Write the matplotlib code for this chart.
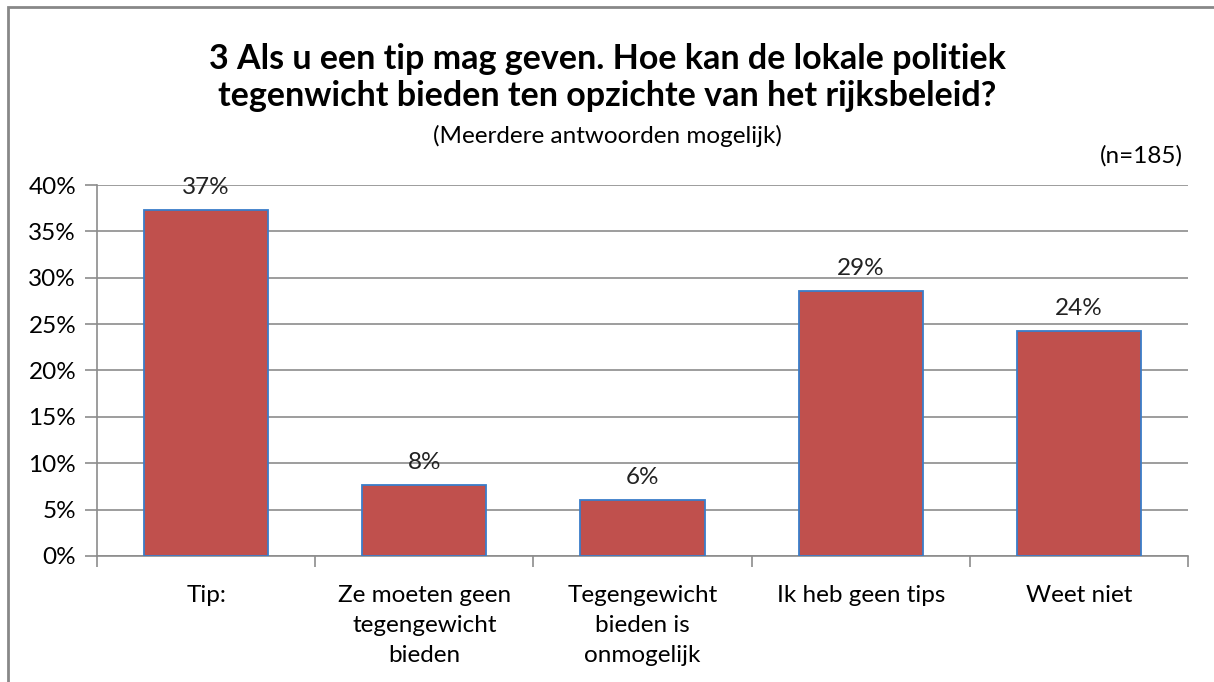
import matplotlib
matplotlib.use("Agg")
import matplotlib.pyplot as plt
from matplotlib.patches import Rectangle
from matplotlib.ticker import MultipleLocator, FuncFormatter

categories = ["Tip:", "Ze moeten geen\ntegengewicht\nbieden", "Tegengewicht\nbieden is\nonmogelijk",
              "Ik heb geen tips", "Weet niet"]
values = [37.3, 7.6, 6.0, 28.6, 24.3]
labels = ["37%", "8%", "6%", "29%", "24%"]

title = "3 Als u een tip mag geven. Hoe kan de lokale politiek\ntegenwicht bieden ten opzichte van het rijksbeleid?"
subtitle = "(Meerdere antwoorden mogelijk)"
n_text = "(n=185)"

plt.rcParams['font.family'] = ['Lato', 'DejaVu Sans']
fs = 17.5

fig = plt.figure(figsize=(12.14, 6.82), dpi=100)
ax = fig.add_axes([0.0799, 0.1848, 0.8987, 0.5439])

x = list(range(len(categories)))
ax.bar(x, values, width=0.57, color="#C0504D", edgecolor="#3A7DC9", linewidth=1.3, zorder=3)
for xi, v, lab in zip(x, values, labels):
    ax.text(xi, v + 1.3, lab, ha="center", va="bottom", fontsize=fs, color="#222222")

ax.set_xlim(-0.5, len(categories) - 0.5)
ax.set_ylim(0, 40)
ax.yaxis.set_major_locator(MultipleLocator(5))
ax.yaxis.set_major_formatter(FuncFormatter(lambda v, p: f"{v:.0f}%"))
ax.grid(axis="y", color="#8C8C8C", linewidth=1.2, zorder=0)

ax.set_xticks([i - 0.5 for i in range(len(categories) + 1)])
ax.set_xticklabels([])
ax.set_xticks(x, minor=True)
ax.set_xticklabels(categories, minor=True, fontsize=fs, linespacing=1.52, va="top")
ax.tick_params(axis="x", which="major", length=8, width=1.2, color="#8C8C8C", direction="out")
ax.tick_params(axis="x", which="minor", length=0, pad=21)
ax.tick_params(axis="y", length=9, width=1.2, color="#8C8C8C", labelsize=fs, pad=6)

for s in ["top", "right"]:
    ax.spines[s].set_visible(False)
for s in ["left", "bottom"]:
    ax.spines[s].set_color("#8C8C8C")
    ax.spines[s].set_linewidth(1.2)

fig.text(0.5, 0.886, title, ha="center", va="center", fontsize=24.5, fontweight="bold",
         linespacing=1.2)
fig.text(0.5, 0.80, subtitle, ha="center", va="center", fontsize=fs)
fig.text(0.974, 0.771, n_text, ha="right", va="center", fontsize=fs)

fig.patches.append(Rectangle((8 / 1214, -0.1), 1.2, 1 - 7 / 682 + 0.1, transform=fig.transFigure,
                             fill=False, edgecolor="#888888", linewidth=2))

fig.savefig("out.png", dpi=100)
